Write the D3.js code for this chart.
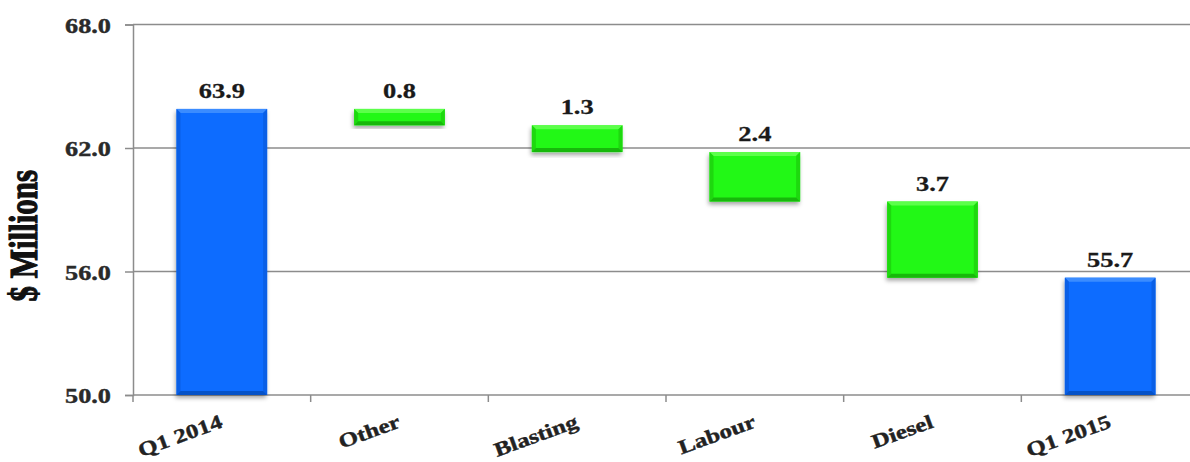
<!DOCTYPE html>
<html>
<head>
<meta charset="utf-8">
<script src="https://cdn.jsdelivr.net/npm/d3@7"></script>
<style>
  html, body { margin: 0; padding: 0; background: #fff; }
  svg { display: block; }
  text { font-family: "Liberation Serif", "Times New Roman", serif; font-weight: bold; }
</style>
</head>
<body>
<svg id="chart" width="1190" height="462"></svg>
<script>
// Cost bridge, Q1 2014 to Q1 2015 ($ millions)
const categories = ["Q1 2014", "Other", "Blasting", "Labour", "Diesel", "Q1 2015"];
const kinds      = ["total",   "step",  "step",     "step",   "step",   "total"];
const values     = [63.9,      0.8,     1.3,        2.4,      3.7,      55.7];
const yTicks     = [50, 56, 62, 68];
const yTitle     = "$ Millions";

const svg = d3.select("#chart");
const W = 1190, H = 462;
const plot = { left: 133, right: 1199, top: 24.5, bottom: 395 };

const x = d3.scaleBand()
  .domain(categories)
  .range([plot.left, plot.right])
  .paddingInner(0.49)
  .paddingOuter(0.245);

const y = d3.scaleLinear()
  .domain([50, 68])
  .range([plot.bottom, plot.top]);

// floating segments: totals start at the axis floor, steps hang from the running total
let running = 0;
const bars = categories.map((c, i) => {
  let lo, hi;
  if (kinds[i] === "total") {
    lo = 50; hi = values[i]; running = values[i];
  } else {
    hi = running; lo = running - values[i]; running = lo;
  }
  return { cat: c, kind: kinds[i], value: values[i], lo, hi };
});

const defs = svg.append("defs");
const shadow = defs.append("filter").attr("id", "barShadow")
  .attr("x", "-20%").attr("y", "-20%").attr("width", "140%").attr("height", "140%");
shadow.append("feDropShadow")
  .attr("dx", -1).attr("dy", 3).attr("stdDeviation", 2)
  .attr("flood-color", "#000").attr("flood-opacity", 0.35);

// gridlines + y axis
const yAxis = d3.axisLeft(y)
  .tickValues(yTicks)
  .tickSize(8)
  .tickFormat(d3.format(".1f"));

const gy = svg.append("g").attr("transform", `translate(${plot.left},0)`).call(yAxis);
gy.select(".domain").attr("stroke", "#8c8c8c").attr("stroke-width", 1.5);
gy.selectAll(".tick line").attr("stroke", "#8c8c8c").attr("stroke-width", 1.5);
gy.selectAll(".tick text").remove();

svg.append("g").selectAll("line").data(yTicks).join("line")
  .attr("x1", plot.left).attr("x2", W)
  .attr("y1", d => y(d)).attr("y2", d => y(d))
  .attr("stroke", "#8c8c8c").attr("stroke-width", 1.5);

// y tick labels, set wide as in the original face
svg.append("g").selectAll("g").data(yTicks).join("g")
  .attr("transform", d => `translate(${plot.left - 22},${y(d) + 8}) scale(1.25,1)`)
  .append("text")
  .attr("text-anchor", "end")
  .attr("font-size", 21)
  .attr("fill", "#2a2a2a")
  .attr("stroke", "#2a2a2a").attr("stroke-width", 0.4)
  .text(d => d3.format(".1f")(d));

// x boundary ticks
const step = x.step();
const x0 = plot.left;
svg.append("g").selectAll("line").data(d3.range(categories.length + 1)).join("line")
  .attr("x1", i => x0 + i * step).attr("x2", i => x0 + i * step)
  .attr("y1", plot.bottom).attr("y2", plot.bottom + 7)
  .attr("stroke", "#8c8c8c").attr("stroke-width", 1.5);

// bars with a bevelled face
const palette = {
  total: { face: "#0a6cff", top: "#3b8cff", side: "#0a5fe6", bottom: "#0552c8" },
  step:  { face: "#22f812", top: "#5cff4a", side: "#1ed80f", bottom: "#17b80b" }
};
const bev = 4;
const gBars = svg.append("g");
bars.forEach(b => {
  const bx = x(b.cat), bw = x.bandwidth();
  const by = y(b.hi), bh = y(b.lo) - y(b.hi);
  const col = palette[b.kind];
  const g = gBars.append("g");
  g.append("rect")
    .attr("x", bx).attr("y", by).attr("width", bw).attr("height", bh)
    .attr("fill", col.face).attr("filter", "url(#barShadow)");
  const e = Math.min(bev, bh / 2);
  // top bevel
  g.append("path")
    .attr("d", `M${bx},${by}L${bx + bw},${by}L${bx + bw - e},${by + e}L${bx + e},${by + e}Z`)
    .attr("fill", col.top);
  // side bevels
  g.append("path")
    .attr("d", `M${bx},${by}L${bx + e},${by + e}L${bx + e},${by + bh - e}L${bx},${by + bh}Z`)
    .attr("fill", col.side);
  g.append("path")
    .attr("d", `M${bx + bw},${by}L${bx + bw - e},${by + e}L${bx + bw - e},${by + bh - e}L${bx + bw},${by + bh}Z`)
    .attr("fill", col.side);
  // bottom bevel
  g.append("path")
    .attr("d", `M${bx},${by + bh}L${bx + e},${by + bh - e}L${bx + bw - e},${by + bh - e}L${bx + bw},${by + bh}Z`)
    .attr("fill", col.bottom);
});

// value labels above each segment
svg.append("g").selectAll("g").data(bars).join("g")
  .attr("transform", d => `translate(${x(d.cat) + x.bandwidth() / 2},${y(d.hi) - 11}) scale(1.2,1)`)
  .append("text")
  .attr("text-anchor", "middle")
  .attr("font-size", 22)
  .attr("fill", "#1a1a1a")
  .attr("stroke", "#1a1a1a").attr("stroke-width", 0.3)
  .text(d => d3.format(".1f")(d.value));

// slanted category labels
svg.append("g").selectAll("g").data(categories).join("g")
  .attr("transform", d => `translate(${x(d) + x.bandwidth() / 2 + 2},${plot.bottom + 32}) rotate(-20) scale(1.25,1)`)
  .append("text")
  .attr("text-anchor", "end")
  .attr("font-size", 20)
  .attr("fill", "#222")
  .attr("stroke", "#222").attr("stroke-width", 0.4)
  .text(d => d);

// y axis title
svg.append("g")
  .attr("transform", `translate(37,${(plot.top + plot.bottom) / 2 + 26}) rotate(-90) scale(1,1.3)`)
  .append("text")
  .attr("text-anchor", "middle")
  .attr("font-size", 31)
  .attr("fill", "#111")
  .attr("stroke", "#111").attr("stroke-width", 0.9)
  .text(yTitle);
</script>
</body>
</html>
